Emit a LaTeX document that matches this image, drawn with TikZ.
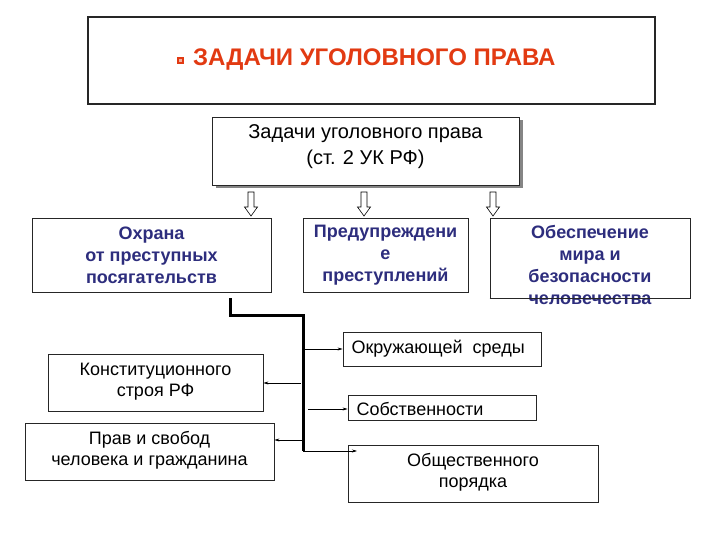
\documentclass[tikz,border=0pt]{standalone}
\usepackage{fontspec}
\setmainfont{Liberation Sans}
\usetikzlibrary{arrows.meta,shadows}
\definecolor{tblue}{RGB}{45,45,125}
\definecolor{tred}{RGB}{226,58,18}
\begin{document}
\begin{tikzpicture}[x=1pt,y=-1pt,
  box/.style={draw=black!85, line width=0.8pt, fill=white, inner sep=0pt, align=center},
  bluetext/.style={text=tblue, font=\fontsize{18}{22}\selectfont\bfseries, align=center},
  plaintext/.style={font=\fontsize{18}{21.5}\selectfont, align=center},
  thin/.style={line width=0.6pt, -{Stealth[length=5pt,width=3pt]}},
  thick/.style={line width=3pt},
  hollow/.pic={\draw[line width=0.6pt, fill=white] (-3,0) -- (-3,15) -- (-6.5,15) -- (0,24) -- (6.5,15) -- (3,15) -- (3,0) -- cycle;}
]
\useasboundingbox (0,0) rectangle (720,540);
% title
\node[box, line width=1.6pt, minimum width=567pt, minimum height=87pt] (title) at (371.5,60.5) {};
\node[text=tred, font=\fontsize{24}{26}\selectfont\bfseries, anchor=west, inner sep=0pt] (ttext) at (193,60) {ЗАДАЧИ УГОЛОВНОГО ПРАВА};
\node[fill=tred, minimum size=7pt, inner sep=0pt] (bullet) at (180.5,61) {};
\node[fill=tred!40, minimum size=3pt, inner sep=0pt] (bulletc) at (180.5,61) {};
% top box
\node[box, minimum width=307pt, minimum height=68pt, drop shadow={shadow xshift=3.5pt, shadow yshift=-3.5pt, fill=black!60, opacity=0.8}] (top) at (365.5,151) {};
\node[font=\fontsize{20}{26}\selectfont, align=center] (topt) at (365.5,147) {Задачи уголовного права\\(ст. 2 УК РФ)};
% hollow arrows
\pic at (251,192) {hollow};
\pic at (364,192) {hollow};
\pic at (493,192) {hollow};
% row 2
\node[box, minimum width=239pt, minimum height=74pt] (ohr) at (151.5,255) {};
\node[bluetext] (ohrt) at (151.5,255) {Охрана\\от преступных\\посягательств};
\node[box, minimum width=165pt, minimum height=74pt] (pred) at (385.5,255) {};
\node[bluetext] (predt) at (385.5,255) {Предупреждени\\е\\преступлений};
\node[box, minimum width=200pt, minimum height=80pt] (obes) at (590,258) {};
\node[bluetext, anchor=north] (obest) at (590,221.5) {Обеспечение\\мира и\\безопасности\\человечества};
\draw[line width=0.8pt, black!85] (obes.south west) -- (obes.south east);
% row 3
\node[box, minimum width=198pt, minimum height=34pt] (okr) at (442,349) {};
\node[plaintext, anchor=west] (okrt) at (348,349) {Окружающей\ \ среды};
\node[box, minimum width=215pt, minimum height=57pt] (kons) at (155.5,382.5) {};
\node[plaintext] (konst) at (155.5,381.5) {Конституционного\\строя РФ};
\node[box, minimum width=188pt, minimum height=25pt] (sob) at (442,407.5) {};
\node[plaintext, anchor=west] (sobt) at (353,409) {Собственности};
\node[box, minimum width=249pt, minimum height=57pt] (prav) at (149.5,451.5) {};
\node[plaintext] (pravt) at (149.5,450.5) {Прав и свобод\\человека и гражданина};
\node[box, minimum width=250pt, minimum height=57pt] (obsh) at (473,473.5) {};
\node[plaintext] (obsht) at (473,472.5) {Общественного\\порядка};
% thick line
\coordinate (s0) at (230,298);
\coordinate (s1) at (230,315);
\coordinate (s2) at (303,315);
\coordinate (s3) at (303,451);
\draw[thick, line join=miter] (s0) -- (s1) -- (s2) -- (s3);
% thin arrows
\coordinate (a1) at (305,349);
\draw[thin] (a1) -- (okr.west);
\coordinate (a2) at (301,383);
\draw[thin] (a2) -- (kons.east |- a2);
\coordinate (a3) at (308,409);
\draw[thin] (a3) -- (sob.west |- a3);
\coordinate (a4) at (302,440);
\draw[thin] (a4) -- (prav.east |- a4);
\coordinate (a5) at (357,451);
\draw[thin] (s3) -- (a5);
\end{tikzpicture}
\end{document}
